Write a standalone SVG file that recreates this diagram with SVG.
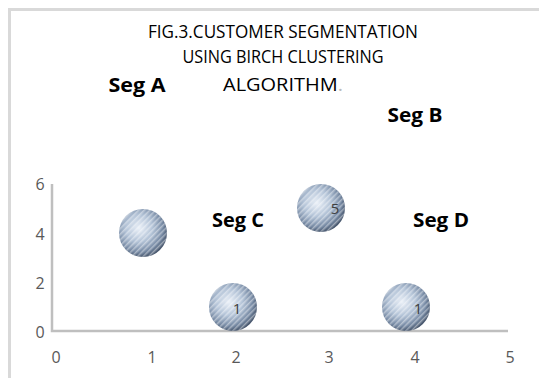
<svg xmlns="http://www.w3.org/2000/svg" width="539" height="378" viewBox="0 0 539 378">
<style>
.t{font-family:"Open Sans","Liberation Sans",sans-serif;font-size:17.5px;fill:#000;text-anchor:middle}
.s{font-family:"Open Sans","Liberation Sans",sans-serif;font-size:19px;font-weight:bold;fill:#000;text-anchor:middle}
.ax{font-family:"Open Sans","Liberation Sans",sans-serif;font-size:16px;fill:#595959;text-anchor:middle}
.n{font-family:"Open Sans","Liberation Sans",sans-serif;font-size:15px;fill:#404040;text-anchor:middle}
.axis{stroke:#bfbfbf;stroke-width:2.5;fill:none}
.frame{stroke:#d9d9d9;stroke-width:3;fill:none}
</style>
<defs>
<radialGradient id="g" cx="0.42" cy="0.4" r="0.62">
<stop offset="0" stop-color="#e9eff7"/>
<stop offset="0.45" stop-color="#b3c3d7"/>
<stop offset="0.8" stop-color="#7689a3"/>
<stop offset="1" stop-color="#46556b"/>
</radialGradient>
<pattern id="h" width="4" height="4" patternUnits="userSpaceOnUse" patternTransform="rotate(-45)">
<rect width="4" height="1.5" fill="#ffffff" fill-opacity="0.4"/>
</pattern>
<symbol id="ball" viewBox="-25 -25 50 50" overflow="visible">
<circle r="24" fill="url(#g)"/>
<circle r="24" fill="url(#h)"/>
</symbol>
</defs>
<rect width="539" height="378" fill="#fff"/>
<path class="frame" d="M9.5 378V9.5H539"/>
<g id="title">
<text class="t" x="283" y="38" textLength="270" lengthAdjust="spacingAndGlyphs">FIG.3.CUSTOMER SEGMENTATION</text>
<text class="t" x="283" y="63" textLength="201" lengthAdjust="spacingAndGlyphs">USING BIRCH CLUSTERING</text>
<text class="t" x="283" y="91" textLength="120" lengthAdjust="spacingAndGlyphs">ALGORITHM<tspan fill="#bbb">.</tspan></text>
</g>
<g id="seg-a"><text class="s" x="137" y="92" textLength="57" lengthAdjust="spacingAndGlyphs">Seg A</text></g>
<g id="seg-b"><text class="s" x="415" y="122" textLength="55" lengthAdjust="spacingAndGlyphs">Seg B</text></g>
<g id="seg-c"><text class="s" x="238" y="227" textLength="52" lengthAdjust="spacingAndGlyphs">Seg C</text></g>
<g id="seg-d"><text class="s" x="441" y="227" textLength="56" lengthAdjust="spacingAndGlyphs">Seg D</text></g>
<g id="axes">
<path class="axis" d="M52 184V331H508"/>
<text class="ax" x="40" y="190">6</text>
<text class="ax" x="40" y="240">4</text>
<text class="ax" x="40" y="289">2</text>
<text class="ax" x="40" y="338">0</text>
<text class="ax" x="56" y="363">0</text>
<text class="ax" x="152" y="363">1</text>
<text class="ax" x="236" y="363">2</text>
<text class="ax" x="329" y="363">3</text>
<text class="ax" x="415" y="363">4</text>
<text class="ax" x="510" y="363">5</text>
</g>
<g id="bubble-1"><use href="#ball" x="118" y="208" width="50" height="50"/></g>
<g id="bubble-2"><use href="#ball" x="208" y="282" width="50" height="50"/><text class="n" x="237" y="314">1</text></g>
<g id="bubble-3"><use href="#ball" x="296" y="183" width="50" height="50"/><text class="n" x="335" y="214">5</text></g>
<g id="bubble-4"><use href="#ball" x="381" y="282" width="50" height="50"/><text class="n" x="418" y="314">1</text></g>
</svg>
